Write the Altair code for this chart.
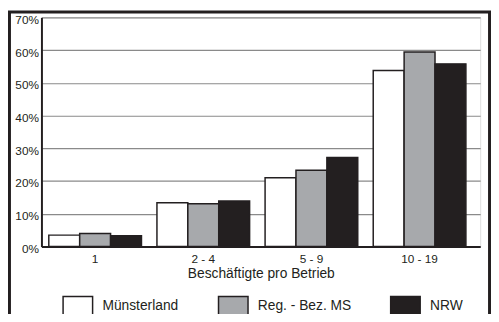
import altair as alt
import pandas as pd

groups = ["1", "2 - 4", "5 - 9", "10 - 19"]
series = ["Münsterland", "Reg. - Bez. MS", "NRW"]
muensterland = [3.5, 13.4, 21.0, 53.8]
reg_bez_ms = [4.0, 13.1, 23.3, 59.4]
nrw = [3.3, 13.9, 27.2, 55.8]
y_ticks = [0, 10, 20, 30, 40, 50, 60, 70]
colors = ["#ffffff", "#a7a9ac", "#231f20"]

rows = []
for s, vals in zip(series, [muensterland, reg_bez_ms, nrw]):
    for g, v in zip(groups, vals):
        rows.append({"Gruppe": g, "Region": s, "Anteil": v / 100})
df = pd.DataFrame(rows)

ink = "#231f20"
font = "Liberation Sans"

bars = alt.Chart(df).mark_bar(stroke=ink, strokeWidth=1.5).encode(
    x=alt.X(
        "Gruppe:N",
        sort=groups,
        scale=alt.Scale(paddingInner=0.143, paddingOuter=0.1, align=0.34, round=False),
        axis=alt.Axis(
            title="Beschäftigte pro Betrieb",
            labelAngle=0,
            labelFontSize=12,
            labelPadding=7,
            ticks=False,
            tickSize=0,
            domainColor=ink,
            domainWidth=2,
            titleFontSize=14,
            titleFontWeight="normal",
            titlePadding=2,
            titleColor=ink,
            labelColor=ink,
            grid=False,
        ),
    ),
    xOffset=alt.XOffset("Region:N", sort=series, scale=alt.Scale(domain=series, paddingInner=0, paddingOuter=0)),
    y=alt.Y(
        "Anteil:Q",
        scale=alt.Scale(domain=[0, 0.7], nice=False),
        axis=alt.Axis(
            title=None,
            format=".0%",
            values=[v / 100 for v in y_ticks],
            labelFontSize=12,
            labelPadding=3,
            labelOffset=2,
            ticks=False,
            tickSize=0,
            domainColor=ink,
            domainWidth=2,
            labelColor=ink,
            grid=True,
            gridColor="#8a8a8a",
            gridWidth=1.2,
            gridOpacity=1,
        ),
    ),
    color=alt.Color(
        "Region:N",
        sort=series,
        scale=alt.Scale(domain=series, range=colors),
        legend=alt.Legend(
            title=None,
            orient="none",
            direction="horizontal",
            legendX=26,
            legendY=282,
            symbolType="M-1.5,-0.95H1.5V0.95H-1.5Z",
            symbolSize=400,
            symbolStrokeColor=ink,
            symbolStrokeWidth=1.5,
            symbolOpacity=1,
            labelFontSize=14,
            labelColor=ink,
            labelOffset=14,
            columnPadding=37,
        ),
    ),
)

frame = alt.Chart(pd.DataFrame({"k": [0]})).mark_rect(
    filled=False, stroke=ink, strokeWidth=3
).encode(
    x=alt.value(-32.5), x2=alt.value(455.5), y=alt.value(-5.5), y2=alt.value(420)
)

chart = alt.layer(bars, frame).properties(
    width=446,
    height=233,
    autosize=alt.AutoSizeParams(type="none"),
    padding={"left": 34, "top": 7, "right": 11, "bottom": 66},
).configure_view(stroke=None).configure(font=font, background="white")

chart.save("out.html", embed_options={"renderer": "svg", "actions": False})
